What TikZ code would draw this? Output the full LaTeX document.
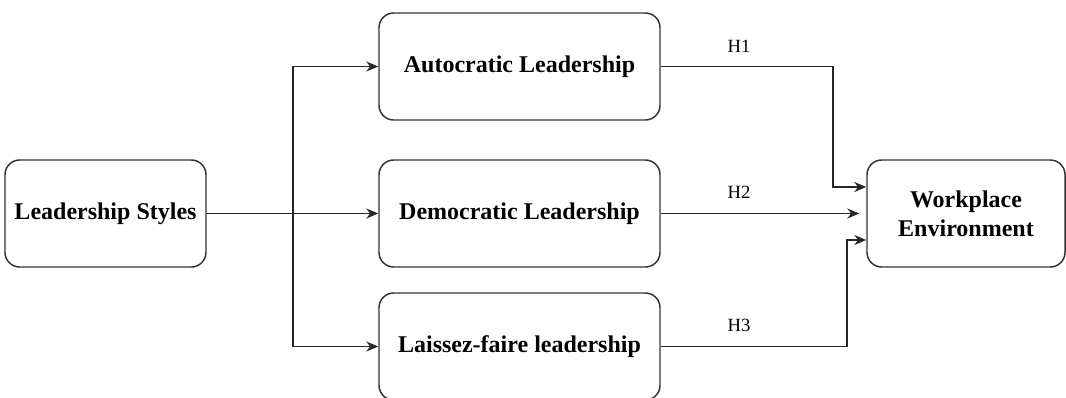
\documentclass[tikz,border=0pt]{standalone}
\usepackage{fontspec}
\setmainfont{Liberation Serif}
\usetikzlibrary{arrows.meta}
\begin{document}
\begin{tikzpicture}[x=0.75pt,y=-0.75pt,
 box/.style={draw=black!80, line width=1.1pt, rounded corners=11pt, font=\fontsize{18}{21.5}\selectfont\bfseries, align=center, inner sep=0pt},
 conn/.style={line width=1.1pt, draw=black!85},
 arr/.style={conn, -{Stealth[length=9pt,width=7.5pt]}},
 hlab/.style={font=\fontsize{14}{16}\selectfont, inner sep=0pt}]
\useasboundingbox (0,0) rectangle (1066,397);
\node[box, minimum width=150.75pt, minimum height=80.25pt] (ls) at (105.5,213.5) {Leadership Styles};
\node[box, minimum width=210.75pt, minimum height=80.25pt] (auto) at (519.5,66.5) {Autocratic Leadership};
\node[box, minimum width=210.75pt, minimum height=80.25pt] (demo) at (519.5,213.5) {Democratic Leadership};
\node[box, minimum width=210.75pt, minimum height=80.25pt] (lf) at (519.5,346.5) {Laissez-faire leadership};
\node[box, minimum width=148.5pt, minimum height=80.25pt] (wp) at (966,213.5) {Workplace\\Environment};
\coordinate (split) at (293,213.5);
\coordinate (h1bend) at (833,187);
\coordinate (h3bend) at (847,240);
\draw[arr] (ls.east) -- (demo.west);
\draw[arr] (split) |- (auto.west);
\draw[arr] (split) |- (lf.west);
\draw[arr] (auto.east) -| (h1bend) -- (h1bend -| wp.west);
\draw[arr, shorten >=5.25pt] (demo.east) -- (wp.west);
\draw[arr] (lf.east) -| (h3bend) -- (h3bend -| wp.west);
\node[hlab] (h1) at (739,46) {H1};
\node[hlab] (h2) at (739,192) {H2};
\node[hlab] (h3) at (739,325) {H3};
\end{tikzpicture}
\end{document}
